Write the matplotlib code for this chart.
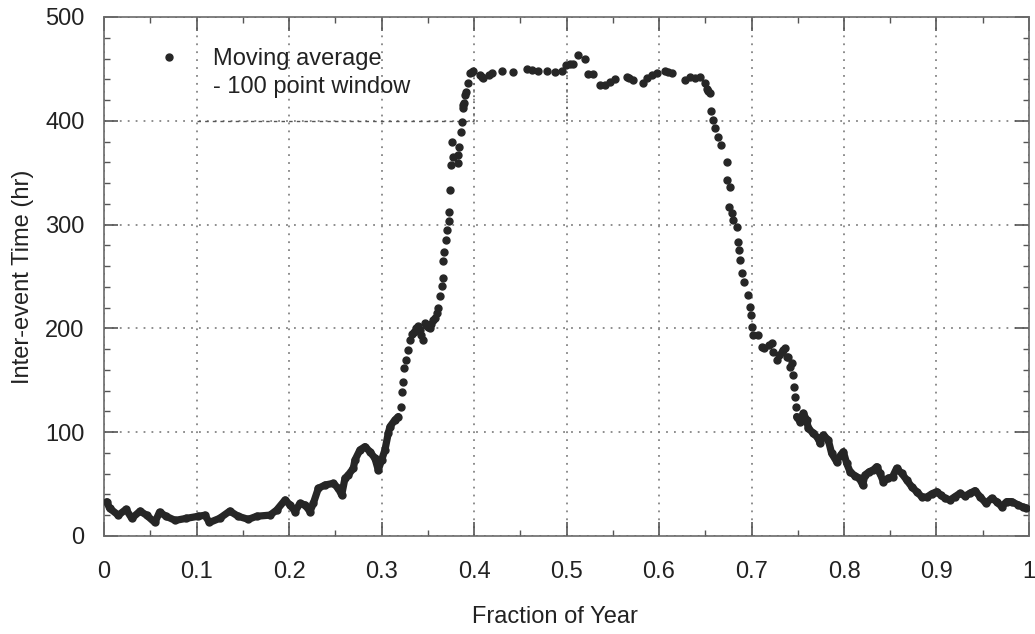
import matplotlib
matplotlib.use("Agg")
import matplotlib.pyplot as plt
from matplotlib.lines import Line2D
from matplotlib.ticker import MultipleLocator

plt.rcParams['font.family'] = ['Liberation Sans', 'DejaVu Sans']
plt.rcParams['lines.scale_dashes'] = False

# ---- data: moving average of inter-event time (hr) vs fraction of year ----
# dense part at the start of the year (points overlap into a thick trace)
x_early = [0.003, 0.006, 0.0155, 0.0238, 0.030, 0.039, 0.046, 0.055, 0.060, 0.067,
           0.077, 0.089, 0.102, 0.109, 0.114, 0.125, 0.136, 0.145, 0.156, 0.165,
           0.1795, 0.1867, 0.1957, 0.2011, 0.2065, 0.2119, 0.2173, 0.2227, 0.2263, 0.2317,
           0.2389, 0.2479, 0.2533, 0.2569, 0.2605, 0.2641, 0.2695, 0.2713, 0.2767, 0.2821,
           0.2875, 0.2929, 0.2965, 0.3001, 0.3037, 0.3073, 0.3091, 0.3145, 0.3181]
y_early = [33, 26.7, 20, 25.7, 17, 24, 20, 13, 23, 19,
           15, 17, 19, 20, 13, 17, 24, 19, 16, 19,
           20.1, 25, 34.7, 29.9, 23.5, 31.5, 29.9, 23.5, 31.5, 45.9,
           49.1, 50.7, 45.9, 39.5, 55.6, 58.8, 65.2, 73.2, 82.9, 86.1,
           81.2, 74.8, 63.6, 73.2, 82.9, 98.9, 105.3, 111.8, 115]

# sparse part: steep rise, summer plateau and steep fall
x_mid = [0.3210, 0.3224, 0.3235, 0.3240, 0.3262, 0.3290, 0.3310, 0.3330, 0.3350, 0.3370,
         0.3390, 0.3417, 0.3430, 0.3445, 0.3470, 0.3485, 0.3500, 0.3520, 0.3540, 0.3560,
         0.3580, 0.3600, 0.3610, 0.3630, 0.3650, 0.3660, 0.3670, 0.3676, 0.3697, 0.3711,
         0.3730, 0.3733, 0.3740, 0.3751, 0.3760, 0.3769, 0.3823, 0.3830, 0.3840, 0.3856,
         0.3866, 0.3877, 0.3885, 0.3895, 0.3903, 0.3913, 0.3939, 0.3957, 0.3975, 0.3986,
         0.4065, 0.4085, 0.4100, 0.4157, 0.4190, 0.4300, 0.4425, 0.4569, 0.4623, 0.4695,
         0.4785, 0.4876, 0.4948, 0.4995, 0.5038, 0.5074, 0.5128, 0.5200, 0.5236, 0.5290,
         0.5362, 0.5416, 0.5470, 0.5524, 0.5650, 0.5680, 0.5715, 0.5830, 0.5866, 0.5920,
         0.5974, 0.6064, 0.6100, 0.6136, 0.6280, 0.6335, 0.6389, 0.6443, 0.6497, 0.6515,
         0.6530, 0.6551, 0.6559, 0.6580, 0.6606, 0.6642, 0.6667, 0.6732, 0.6739, 0.6768,
         0.6761, 0.6786, 0.6804, 0.6840, 0.6858, 0.6869, 0.6876, 0.6894, 0.6920, 0.6966,
         0.6984, 0.6991, 0.7002, 0.7020, 0.7074, 0.7110, 0.7140, 0.7193, 0.7218, 0.7236,
         0.7279, 0.7300, 0.7326, 0.7344, 0.7362, 0.7380, 0.7398, 0.7416, 0.7434, 0.7445,
         0.7459, 0.7470, 0.7481]
y_mid = [124.7, 139, 148.6, 161.5, 170, 179, 189, 195, 197, 200,
         202, 198, 194, 189, 205, 203, 201, 200, 204, 208,
         210, 214.5, 219.5, 231, 240.6, 248.6, 264.7, 274, 285, 295,
         303, 312.6, 333.5, 357.5, 380, 365.4, 359, 367, 375, 389.5,
         399, 412, 415, 417, 425, 428, 436, 446, 447, 447.5,
         444, 442, 441, 444, 446, 447.5, 447, 450, 449, 448.4,
         448.4, 447, 447.5, 454, 455, 455, 463, 460, 445, 445,
         434.5, 434.5, 437.7, 440, 442.5, 441, 439.3, 436.7, 441, 444,
         446, 447.5, 447, 446, 439.3, 442.5, 441, 442.5, 436, 431,
         429, 427, 409.8, 400.8, 392.8, 384.8, 376.7, 360.6, 343, 336,
         317.3, 310.9, 304.5, 298, 283.6, 275.6, 266, 253, 245, 232.2,
         221, 213, 201.7, 193.6, 193.6, 182.4, 181, 184, 185.6, 177.6,
         169.6, 174, 177.6, 179.2, 180.8, 172.8, 172.8, 163.1, 166.4, 155.1,
         143.9, 134.3, 124.7]

# dense part towards the end of the year
x_late = [0.7488, 0.7524, 0.7560, 0.7596, 0.7614, 0.7668, 0.7722, 0.7740, 0.7776, 0.7830,
          0.7866, 0.7920, 0.7964, 0.7993, 0.8029, 0.8065, 0.8119, 0.8166, 0.8202, 0.8227,
          0.8274, 0.8317, 0.8353, 0.8389, 0.8425, 0.8479, 0.8526, 0.8569, 0.8623, 0.8677,
          0.8731, 0.8785, 0.8839, 0.8893, 0.8947, 0.9001, 0.9045, 0.9092, 0.9146, 0.9200,
          0.9254, 0.9308, 0.9362, 0.9416, 0.9470, 0.9535, 0.9596, 0.9650, 0.9704, 0.9758,
          0.9812, 0.9884, 0.9930, 0.9970]
y_late = [115, 110.2, 118.2, 111.8, 103.8, 98.9, 94.1, 89.3, 97.3, 92.5,
          79.7, 71.6, 78, 81.2, 70, 62, 57.8, 55.6, 49.2, 58.8,
          62, 63.6, 66.8, 60.4, 52.4, 55.6, 57.2, 65.2, 60.4, 54,
          47.5, 42.7, 37.9, 37.3, 40.5, 42.7, 39.5, 36.3, 34.7, 37.9,
          41.1, 38.5, 41.1, 43.7, 37.9, 31.5, 36.3, 33.1, 28.3, 33.1,
          33.1, 29.9, 28, 27]

x_ticks = [0, 0.1, 0.2, 0.3, 0.4, 0.5, 0.6, 0.7, 0.8, 0.9, 1]
x_ticklabels = ['0', '0.1', '0.2', '0.3', '0.4', '0.5', '0.6', '0.7', '0.8', '0.9', '1']
y_ticks = [0, 100, 200, 300, 400, 500]
legend_lines = ['Moving average', '- 100 point window']

# reference guide lines drawn on the original chart
guide_h = (400, 0.1, 0.4)          # y, xmin, xmax
guide_v = [(0.4, 400, 447), (0.5, 400, 454)]  # x, ymin, ymax

# ---- figure ----
dot_color = '#262626'
text_color = '#222222'
fs = 17
fig = plt.figure(figsize=(10.35, 6.34), dpi=100)
ax = fig.add_axes([0.1005, 0.1546, 0.8937, 0.8186])

ax.set_xlim(0, 1)
ax.set_ylim(0, 500)
ax.set_xticks(x_ticks)
ax.set_xticklabels(x_ticklabels)
ax.set_yticks(y_ticks)
ax.xaxis.set_minor_locator(MultipleLocator(0.05))
ax.yaxis.set_minor_locator(MultipleLocator(20))

ax.grid(True, which='major', color='#858585', linestyle=(0, (1.3, 4.4)), linewidth=1.3)
ax.set_axisbelow(True)

ax.hlines(guide_h[0], guide_h[1], guide_h[2], colors='#555555',
          linestyles=(0, (2.5, 3.0)), linewidth=1.0, zorder=1.5)
for gx, g0, g1 in guide_v:
    ax.vlines(gx, g0, g1, colors='#555555', linestyles=(0, (1.3, 3.0)),
              linewidth=1.1, zorder=1.5)

ms = 5.0
ax.plot(x_early, y_early, color=dot_color, linewidth=5.2, solid_capstyle='round',
        solid_joinstyle='round', marker='o', markersize=ms, zorder=3)
pts, = ax.plot(x_mid, y_mid, linestyle='none', marker='o', markersize=ms,
               color=dot_color, zorder=3)
ax.plot(x_late, y_late, color=dot_color, linewidth=5.2, solid_capstyle='round',
        solid_joinstyle='round', marker='o', markersize=ms, zorder=3)

for sp in ax.spines.values():
    sp.set_color('#6a6a6a')
    sp.set_linewidth(1.2)

ax.tick_params(which='both', direction='in', top=True, right=True,
               colors='#555555', labelcolor=text_color, labelsize=fs)
ax.tick_params(which='major', length=10, width=1.2)
ax.tick_params(which='minor', length=4.5, width=1.0)
ax.tick_params(axis='x', which='major', pad=18)
ax.tick_params(axis='y', which='major', pad=14)

ax.set_xlabel('Fraction of Year', fontsize=fs, color=text_color, labelpad=18)
ax.xaxis.set_label_coords(0.487, -0.135)
ax.set_ylabel('Inter-event Time (hr)', fontsize=fs, color=text_color, labelpad=8)

blank = Line2D([], [], linestyle='none')
leg = ax.legend(handles=[pts, blank], labels=legend_lines, loc='upper left',
                bbox_to_anchor=(0.034, 0.981), frameon=False, fontsize=fs,
                numpoints=1, handlelength=1.0, handletextpad=1.4,
                labelspacing=0.25, labelcolor=text_color)

fig.savefig('out.png', dpi=100)
